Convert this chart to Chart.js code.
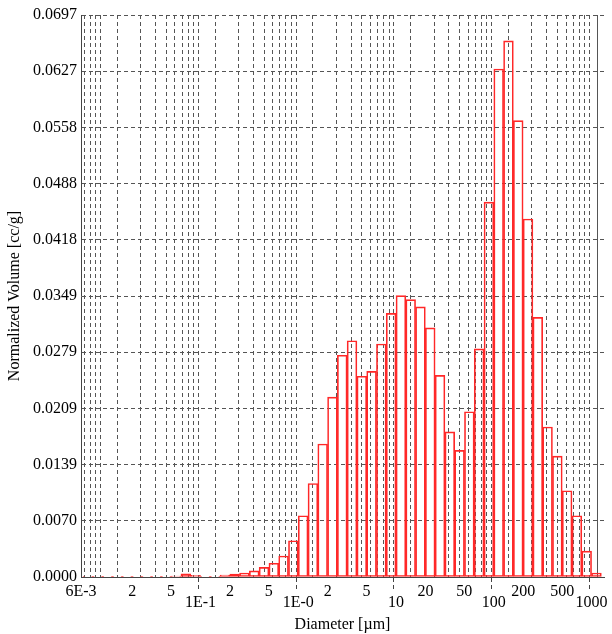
<!DOCTYPE html>
<html>
<head>
<meta charset="utf-8">
<script src="https://cdn.jsdelivr.net/npm/chart.js@4.4.1/dist/chart.umd.min.js"></script>
<style>
  html, body { margin: 0; padding: 0; background: #fff; }
  canvas { display: block; }
</style>
</head>
<body>
<canvas id="chart" width="612" height="634"></canvas>
<script>
  // bin edges in µm (0.1 decade wide)
  const binEdges = [
    0.006310, 0.007943, 0.01000, 0.01259, 0.01585, 0.01995, 0.02512, 0.03162, 0.03981, 0.05012,
    0.06310, 0.07943, 0.1000, 0.1259, 0.1585, 0.1995, 0.2512, 0.3162, 0.3981, 0.5012,
    0.6310, 0.7943, 1.000, 1.259, 1.585, 1.995, 2.512, 3.162, 3.981, 5.012,
    6.310, 7.943, 10.00, 12.59, 15.85, 19.95, 25.12, 31.62, 39.81, 50.12,
    63.10, 79.43, 100.0, 125.9, 158.5, 199.5, 251.2, 316.2, 398.1, 501.2,
    631.0, 794.3, 1000, 1259
  ];

  // normalized volume per bin [cc/g]
  const volumes = [
    0.00003, 0.00003, 0.00003, 0.00003, 0.00003, 0.00003, 0.00003, 0.00003, 0.00005, 0.00012,
    0.0004, 0.00022, 0.00008, 0.00008, 0.00025, 0.00037, 0.0005, 0.00075, 0.0012, 0.0017,
    0.0026, 0.0045, 0.0076, 0.0116, 0.0165, 0.0223, 0.0275, 0.0293, 0.0249, 0.0255,
    0.0289, 0.0327, 0.0349, 0.0344, 0.0335, 0.0309, 0.0250, 0.0180, 0.0157, 0.0205,
    0.0283, 0.0465, 0.0630, 0.0665, 0.0566, 0.0444, 0.0322, 0.0186, 0.0150, 0.0107,
    0.0076, 0.0032, 0.0005
  ];

  const xMin = 0.006, xMax = 1340;
  const yMax = 0.0697;

  const xTickLabelValues = [0.006, 0.02, 0.05, 0.1, 0.2, 0.5, 1, 2, 5, 10, 20, 50, 100, 200, 500, 1000];
  const xTickLabels = ['6E-3', '2', '5', '1E-1', '2', '5', '1E-0', '2', '5', '10', '20', '50', '100', '200', '500', '1000'];
  const xLowerRow = [0.1, 1, 10, 100, 1000];

  const yTickLabels = ['0.0000', '0.0070', '0.0139', '0.0209', '0.0279', '0.0349',
                       '0.0418', '0.0488', '0.0558', '0.0627', '0.0697'];

  const same = (a, b) => Math.abs(Math.log10(a) - Math.log10(b)) < 1e-6;
  const inList = (v, list) => list.some(l => same(v, l));

  const points = volumes.map((v, i) => ({ x: Math.sqrt(binEdges[i] * binEdges[i + 1]), y: v }));

  const serif = "'Liberation Serif', 'Times New Roman', serif";
  Chart.defaults.color = '#000';
  Chart.defaults.font.family = serif;
  Chart.defaults.font.size = 16;

  const ctx = document.getElementById('chart').getContext('2d');
  const chart = new Chart(ctx, {
    type: 'bar',
    data: {
      datasets: [{
        data: points,
        backgroundColor: 'rgba(0,0,0,0)',
        borderColor: 'rgb(255,40,40)',
        borderWidth: 1,
        borderSkipped: false,
        barThickness: 9
      }]
    },
    options: {
      responsive: false,
      animation: false,
      layout: { padding: { top: 15, right: 8, left: 0, bottom: 0 } },
      plugins: { legend: { display: false }, tooltip: { enabled: false } },
      scales: {
        x: {
          type: 'logarithmic',
          min: xMin,
          max: xMax,
          offset: false,
          afterBuildTicks: s => {
            const t = [];
            for (let e = -3; e <= 3; e++) {
              for (let m = 1; m <= 9; m++) {
                const v = m * Math.pow(10, e);
                if (v >= xMin * 0.999 && v < xMax) t.push({ value: v });
              }
            }
            t.push({ value: xMax });
            s.ticks = t;
          },
          afterFit: s => { s.height = 57; },
          ticks: {
            autoSkip: false,
            maxRotation: 0,
            padding: -3,
            font: { size: 16, lineHeight: 0.66 },
            callback: v => {
              const i = xTickLabelValues.findIndex(l => same(v, l));
              if (i < 0) return '';
              return inList(v, xLowerRow) ? ['', xTickLabels[i]] : xTickLabels[i];
            }
          },
          grid: {
            color: '#555',
            lineWidth: 1,
            tickLength: 13,
            tickColor: c => (c.tick && inList(c.tick.value, xLowerRow)) ? '#444' : 'rgba(0,0,0,0)',
            tickBorderDash: [4, 3]
          },
          border: {
            color: '#444',
            width: 1,
            dash: c => (c.tick && c.tick.value === xMax) ? [] : [4, 3]
          },
          title: {
            display: true,
            text: 'Diameter [µm]',
            font: { size: 16 },
            padding: { top: 0, bottom: 0 }
          }
        },
        y: {
          min: 0,
          max: yMax,
          afterBuildTicks: s => {
            s.ticks = yTickLabels.map((_, i) => ({ value: i * yMax / 10 }));
          },
          afterFit: s => { s.width = 81; },
          ticks: {
            padding: 4,
            font: { size: 16 },
            callback: (v, i) => yTickLabels[i]
          },
          grid: { color: '#555', lineWidth: 1, drawTicks: false },
          border: { color: '#444', width: 1, dash: [4, 3] },
          title: {
            display: true,
            text: 'Normalized Volume [cc/g]',
            font: { size: 16 },
            padding: { top: 5, bottom: 0 }
          }
        }
      }
    }
  });

  // bars span a full 0.1-decade bin on the log axis
  const xs = chart.scales.x;
  const n = volumes.length;
  chart.data.datasets[0].barThickness =
    (xs.getPixelForValue(binEdges[n]) - xs.getPixelForValue(binEdges[0])) / n;
  chart.update('none');
</script>
</body>
</html>
